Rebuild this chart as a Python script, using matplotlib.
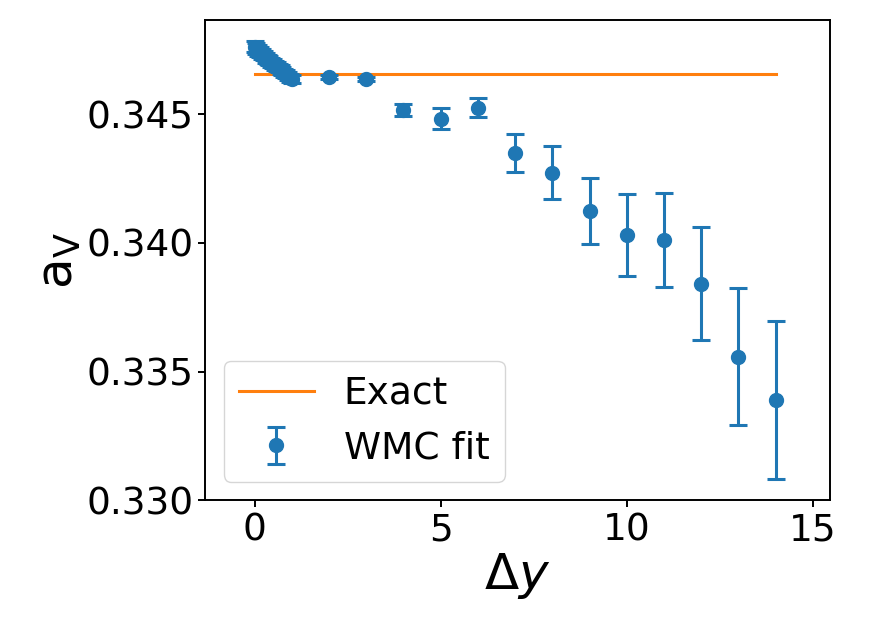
import numpy as np
import matplotlib.pyplot as plt

# data
dy = [0.00, 0.05, 0.10, 0.15, 0.20, 0.25, 0.30, 0.35, 0.40, 0.45, 0.50,
      0.55, 0.60, 0.65, 0.70, 0.75, 0.80, 0.85, 0.90, 0.95, 1.00,
      2, 3, 4, 5, 6, 7, 8, 9, 10, 11, 12, 13, 14]
a_fit = [0.34762, 0.34755, 0.34748, 0.34742, 0.34733, 0.34727, 0.34719,
         0.34713, 0.34708, 0.34701, 0.34696, 0.34690, 0.34685, 0.34680,
         0.34674, 0.34667, 0.34661, 0.34655, 0.34648, 0.34642, 0.34636,
         0.34646, 0.34636, 0.34517, 0.34483, 0.34526, 0.34350, 0.34273,
         0.34124, 0.34031, 0.34012, 0.33842, 0.33558, 0.33390]
a_err = [0.00022, 0.00020, 0.00020, 0.00019, 0.00020, 0.00018, 0.00019,
         0.00018, 0.00018, 0.00017, 0.00018, 0.00017, 0.00017, 0.00016,
         0.00017, 0.00016, 0.00016, 0.00016, 0.00015, 0.00015, 0.00015,
         0.00008, 0.00008, 0.00023, 0.00041, 0.00038, 0.00074, 0.00103,
         0.00130, 0.00160, 0.00183, 0.00220, 0.00267, 0.00306]
exact_x = [0, 14]
exact_a = 0.34655

fig = plt.figure(figsize=(8.72, 6.17), dpi=100)
ax = fig.add_axes([0.2351, 0.1891, 0.7167, 0.7785])

ax.plot(exact_x, [exact_a, exact_a], color='C1', lw=2.2, label='Exact')
ax.errorbar(dy, a_fit, yerr=a_err, fmt='o', color='C0', ms=10,
            elinewidth=2.2, capsize=6.5, capthick=2.2, label='WMC fit')

ax.set_xlim(-1.33, 15.46)
ax.set_ylim(0.330, 0.34866)
ax.set_xticks([0, 5, 10, 15])
ax.set_yticks([0.330, 0.335, 0.340, 0.345])
ax.set_yticklabels(['0.330', '0.335', '0.340', '0.345'])
ax.tick_params(labelsize=27, width=1.4, length=5)
for s in ax.spines.values():
    s.set_linewidth(1.4)

ax.set_xlabel(r'$\Delta y$', fontsize=36, labelpad=2)
ax.set_ylabel(r'$\mathrm{a_V}$', fontsize=36, labelpad=2)
ax.legend(loc='lower left', fontsize=27)

plt.savefig('out.png', dpi=100)
